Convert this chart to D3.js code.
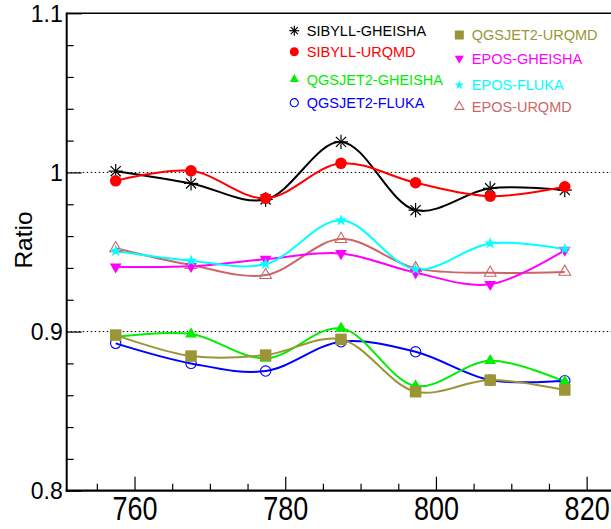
<!DOCTYPE html>
<html>
<head>
<meta charset="utf-8">
<script src="https://cdn.jsdelivr.net/npm/d3@7"></script>
<style>
  body { margin: 0; background: #fff; }
  svg { display: block; font-family: "Liberation Sans", Arial, sans-serif; }
</style>
</head>
<body>
<div id="chart"></div>
<script>
    // energies (x) shared by all series
    var energies = [757.5, 767.5, 777.4, 787.4, 797.3, 807.2, 817.1];

    var sibyllGheisha = [1.0008, 0.9931, 0.9830, 1.0192, 0.9763, 0.9900, 0.9889];
    var sibyllUrqmd   = [0.9947, 1.0010, 0.9837, 1.0057, 0.9935, 0.9851, 0.9910];
    var qgsGheisha    = [0.8967, 0.8984, 0.8832, 0.9020, 0.8658, 0.8817, 0.8685];
    var qgsFluka      = [0.8926, 0.8800, 0.8752, 0.8936, 0.8873, 0.8695, 0.8691];
    var qgsUrqmd      = [0.8978, 0.8846, 0.8852, 0.8951, 0.8622, 0.8695, 0.8633];
    var eposGheisha   = [0.9407, 0.9410, 0.9455, 0.9491, 0.9370, 0.9297, 0.9512];
    var eposFluka     = [0.9506, 0.9445, 0.9424, 0.9699, 0.9391, 0.9554, 0.9518];
    var eposUrqmd     = [0.9523, 0.9418, 0.9355, 0.9581, 0.9397, 0.9369, 0.9375];

    var xMajor = [760, 780, 800, 820];
    var yMajor = [0.8, 0.9, 1.0, 1.1];
    var refLines = [0.9, 1.0];

    var series = [
      { name: "SIBYLL-GHEISHA", vals: sibyllGheisha, color: "#000000", mark: "aster" },
      { name: "SIBYLL-URQMD", vals: sibyllUrqmd, color: "#ff0000", mark: "circle" },
      { name: "QGSJET2-GHEISHA", vals: qgsGheisha, color: "#00ee00", mark: "tri" },
      { name: "QGSJET2-FLUKA", vals: qgsFluka, color: "#0000ff", mark: "ocircle" },
      { name: "QGSJET2-URQMD", vals: qgsUrqmd, color: "#9b9537", mark: "square" },
      { name: "EPOS-GHEISHA", vals: eposGheisha, color: "#ff00ff", mark: "dtri" },
      { name: "EPOS-FLUKA", vals: eposFluka, color: "#00ffff", mark: "star" },
      { name: "EPOS-URQMD", vals: eposUrqmd, color: "#cc6666", mark: "otri" }
    ];
    // draw order (back to front) roughly like the original
    var drawOrder = [7, 5, 6, 3, 2, 4, 0, 1];

    var W = 611, H = 529;
    var L = 66.7, T = 13.3, R = 610, B = 490.7;

    var svg = d3.select("#chart").append("svg").attr("width", W).attr("height", H);

    var x = d3.scaleLinear().domain([751, 823.1]).range([L, R]);
    var y = d3.scaleLinear().domain([0.8, 1.1]).range([B, T]);

    // dotted reference lines
    svg.selectAll("line.ref").data(refLines).enter().append("line")
      .attr("x1", L).attr("x2", W)
      .attr("y1", function (d) { return y(d); }).attr("y2", function (d) { return y(d); })
      .style("stroke", "#000").style("stroke-width", 1)
      .style("stroke-dasharray", "1.5,2.5");

    // top frame line
    svg.append("line").attr("x1", L).attr("x2", W).attr("y1", T).attr("y2", T)
      .style("stroke", "#000").style("stroke-width", 1.5);

    // x axis minor + major
    var xMinorVals = d3.range(755, 824, 5).filter(function (v) { return xMajor.indexOf(v) < 0; });
    svg.append("g").attr("transform", "translate(0," + B + ")")
      .call(d3.axisBottom(x).tickValues(xMinorVals).tickSize(-7).tickSizeOuter(0).tickFormat(""))
      .call(function (g) { g.select(".domain").remove(); });
    var gx = svg.append("g").attr("transform", "translate(0," + B + ")")
      .call(d3.axisBottom(x).tickValues(xMajor).tickSize(-14).tickSizeOuter(0).tickFormat(d3.format("d")));
    gx.select(".domain").remove();
    gx.selectAll("text")
      .attr("y", 0).attr("dy", 0)
      .attr("transform", "translate(0,29.3) scale(1,1.2)")
      .style("font-size", "27px").style("font-family", "Liberation Sans, Arial, sans-serif")
      .style("fill", "#000");
    svg.append("line").attr("x1", L - 1).attr("x2", W).attr("y1", B).attr("y2", B)
      .style("stroke", "#000").style("stroke-width", 2.2);

    // y axis minor + major
    var yMinorVals = d3.range(0.82, 1.1, 0.02).filter(function (v) {
      return Math.abs(v * 10 - Math.round(v * 10)) > 1e-6;
    });
    svg.append("g").attr("transform", "translate(" + L + ",0)")
      .call(d3.axisLeft(y).tickValues(yMinorVals).tickSize(-7).tickSizeOuter(0).tickFormat(""))
      .call(function (g) { g.select(".domain").remove(); });
    var gy = svg.append("g").attr("transform", "translate(" + L + ",0)")
      .call(d3.axisLeft(y).tickValues(yMajor).tickSize(-15).tickSizeOuter(0).tickPadding(4)
        .tickFormat(function (d) { return d3.format("")(Math.round(d * 10) / 10); }));
    gy.select(".domain").remove();
    gy.selectAll("text")
      .attr("dy", "0.36em")
      .style("font-size", "23px").style("font-family", "Liberation Sans, Arial, sans-serif")
      .style("fill", "#000");
    svg.selectAll("g.tick line").style("stroke", "#000").style("stroke-width", 1.2);
    svg.append("line").attr("x1", L).attr("x2", L).attr("y1", T - 0.7).attr("y2", B + 1)
      .style("stroke", "#000").style("stroke-width", 2);

    // y title
    svg.append("text")
      .attr("transform", "translate(32,240) rotate(-90)")
      .style("text-anchor", "middle")
      .style("font-size", "24.5px")
      .text("Ratio");

    // marker drawing
    function drawMarker(g, mark, color, s) {
      if (mark === "aster") {
        var r = s * 0.55;
        [0, 45, 90, 135].forEach(function (a) {
          var rad = a * Math.PI / 180;
          g.append("line")
            .attr("x1", -r * Math.cos(rad)).attr("y1", -r * Math.sin(rad))
            .attr("x2", r * Math.cos(rad)).attr("y2", r * Math.sin(rad))
            .style("stroke", color).style("stroke-width", 1.2);
        });
      } else if (mark === "circle") {
        g.append("circle").attr("r", s * 0.5).style("fill", color);
      } else if (mark === "ocircle") {
        g.append("circle").attr("r", s * 0.45).style("fill", "none")
          .style("stroke", color).style("stroke-width", 1.1);
      } else if (mark === "square") {
        g.append("rect").attr("x", -s * 0.5).attr("y", -s * 0.5)
          .attr("width", s).attr("height", s).style("fill", color);
      } else if (mark === "tri" || mark === "dtri" || mark === "otri") {
        var p = d3.symbol().type(d3.symbolTriangle).size(s * s * 0.45)();
        var path = g.append("path").attr("d", p);
        if (mark === "dtri") path.attr("transform", "rotate(180)");
        if (mark === "otri") path.style("fill", "none").style("stroke", color).style("stroke-width", 1.1);
        else path.style("fill", color);
      } else if (mark === "star") {
        g.append("path").attr("d", d3.symbol().type(d3.symbolStar).size(s * s * 0.35)())
          .style("fill", color);
      }
    }

    var line = d3.line()
      .x(function (d) { return x(d[0]); })
      .y(function (d) { return y(d[1]); })
      .curve(d3.curveCatmullRom.alpha(0.5));

    drawOrder.forEach(function (i) {
      var s = series[i];
      var pts = energies.map(function (e, k) { return [e, s.vals[k]]; });
      svg.append("path").datum(pts).attr("d", line)
        .style("fill", "none").style("stroke", s.color).style("stroke-width", 2);
    });
    drawOrder.forEach(function (i) {
      var s = series[i];
      energies.forEach(function (e, k) {
        var g = svg.append("g").attr("transform", "translate(" + x(e) + "," + y(s.vals[k]) + ")");
        drawMarker(g, s.mark, s.color, s.mark === "aster" ? 13 : 11.5);
      });
    });

    // legend
    var legPos = [
      [294.3, 30.7], [294.3, 51.7], [294.3, 79.3], [294.3, 102.7],
      [459.3, 35], [459.3, 58.3], [459.3, 85], [459.3, 106.7]
    ];
    series.forEach(function (s, i) {
      var p = legPos[i];
      var g = svg.append("g").attr("transform", "translate(" + p[0] + "," + p[1] + ")");
      drawMarker(g, s.mark, s.color, 9);
      svg.append("text")
        .attr("x", p[0] + 12.5).attr("y", p[1])
        .attr("dy", "0.36em")
        .style("font-size", "14.5px")
        .style("fill", s.color)
        .text(s.name);
    });
</script>
</body>
</html>
